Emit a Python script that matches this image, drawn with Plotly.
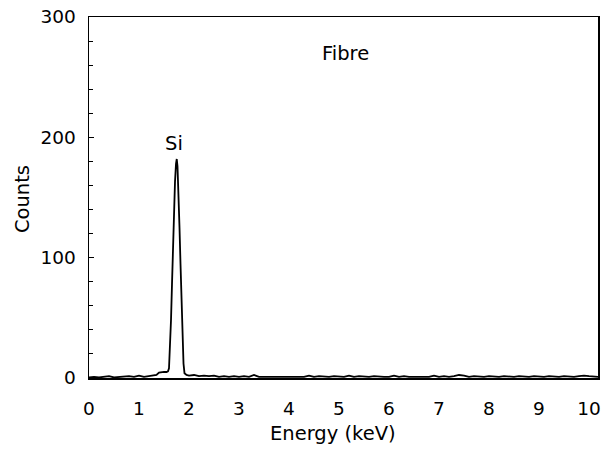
import plotly.graph_objects as go

# ---- data ----
energy = [0.0, 0.1, 0.2, 0.3, 0.4, 0.5, 0.6, 0.7, 0.8, 0.9, 1.0, 1.1, 1.2, 1.3,
          1.35, 1.40, 1.45, 1.50, 1.55, 1.58,
          1.60, 1.62, 1.64, 1.66, 1.68, 1.70, 1.72, 1.74, 1.755, 1.77, 1.79,
          1.81, 1.83, 1.85, 1.87, 1.89, 1.91, 1.95,
          2.0, 2.1, 2.2, 2.3, 2.4, 2.5, 2.6, 2.7, 2.8, 2.9,
          3.0, 3.1, 3.2, 3.3, 3.4, 3.5, 3.6, 3.7, 3.8, 3.9,
          4.0, 4.1, 4.2, 4.3, 4.4, 4.5, 4.6, 4.7, 4.8, 4.9,
          5.0, 5.1, 5.2, 5.3, 5.4, 5.5, 5.6, 5.7, 5.8, 5.9,
          6.0, 6.1, 6.2, 6.3, 6.4, 6.5, 6.6, 6.7, 6.8, 6.9,
          7.0, 7.1, 7.2, 7.3, 7.4, 7.5, 7.6, 7.7, 7.8, 7.9,
          8.0, 8.1, 8.2, 8.3, 8.4, 8.5, 8.6, 8.7, 8.8, 8.9,
          9.0, 9.1, 9.2, 9.3, 9.4, 9.5, 9.6, 9.7, 9.8, 9.9, 10.0, 10.1, 10.18]
counts = [0.5, 1.0, 0.5, 1.0, 1.5, 0.5, 1.0, 1.0, 1.5, 1.0, 2.0, 1.0, 1.5, 2.0,
          2.5, 4.5, 5.0, 5.0, 5.0, 5.5,
          8.0, 25.0, 48.0, 78.0, 110.0, 140.0, 163.0, 178.0, 182.0, 176.0, 155.0,
          125.0, 95.0, 62.0, 32.0, 12.0, 4.0, 2.5,
          2.0, 2.5, 1.5, 2.0, 1.5, 2.0, 1.0, 1.5, 1.0, 1.5,
          1.0, 1.5, 1.0, 2.5, 1.0, 1.0, 1.5, 1.0, 1.5, 1.0,
          1.0, 1.5, 1.0, 1.0, 2.0, 1.0, 1.5, 1.0, 1.0, 1.5,
          1.0, 1.0, 2.0, 1.0, 1.5, 1.0, 1.0, 1.5, 1.0, 1.0,
          1.0, 2.0, 1.0, 1.5, 1.0, 1.0, 1.5, 1.0, 1.0, 2.0,
          1.0, 1.5, 1.0, 1.5, 2.5, 2.0, 1.0, 1.5, 1.0, 1.0,
          1.5, 1.0, 1.0, 1.5, 1.0, 1.0, 1.5, 1.0, 1.0, 1.5,
          1.0, 1.0, 1.5, 1.0, 1.0, 1.5, 1.0, 1.0, 1.5, 2.0, 1.5, 1.0, 1.0]

x_ticks = [0, 1, 2, 3, 4, 5, 6, 7, 8, 9, 10]
y_ticks = [0, 100, 200, 300]

FONT = "DejaVu Sans, sans-serif"
FS = 18.5
FT = 19.5

fig = go.Figure()
fig.add_trace(go.Scatter(x=energy, y=counts, mode="lines",
                         line=dict(color="black", width=1.8),
                         showlegend=False, hoverinfo="skip"))

fig.update_layout(
    width=601, height=450,
    margin=dict(l=89, r=3, t=17, b=72),
    paper_bgcolor="white", plot_bgcolor="white",
    font=dict(family=FONT, size=FS, color="black"),
    showlegend=False,
)
fig.update_xaxes(
    range=[0, 10.18], tickvals=x_ticks, ticktext=[str(v) for v in x_ticks],
    showgrid=False, zeroline=False, showline=True, linecolor="black",
    linewidth=1.5, mirror=True, ticks="", ticklabelstandoff=13,
    tickfont=dict(size=FS), automargin=False,
)
fig.update_yaxes(
    range=[0, 300], tickvals=y_ticks, ticktext=[str(v) for v in y_ticks],
    showgrid=False, zeroline=False, showline=True, linecolor="black",
    linewidth=1.5, mirror=True, ticks="inside", ticklen=5, tickcolor="black",
    minor=dict(dtick=20, ticks="inside", ticklen=4, tickcolor="black", showgrid=False),
    ticklabelstandoff=8, tickfont=dict(size=FS), automargin=False,
)

fig.add_annotation(text="Counts", xref="paper", yref="paper", x=-0.132, y=0.495,
                   xanchor="center", yanchor="middle",
                   textangle=-90, showarrow=False, font=dict(size=FT))
fig.add_annotation(text="Energy (keV)", xref="x", yref="paper", x=4.87, y=-0.155,
                   xanchor="center", yanchor="middle",
                   showarrow=False, font=dict(size=FT))
fig.add_annotation(text="(b)", xref="x", yref="paper", x=-0.04, y=-0.155,
                   xanchor="center", yanchor="middle",
                   showarrow=False, font=dict(size=FT))
fig.add_annotation(text="Fibre", xref="x", yref="y", x=5.13, y=270,
                   xanchor="center", yanchor="middle",
                   showarrow=False, font=dict(size=FT))
fig.add_annotation(text="Si", xref="x", yref="y", x=1.70, y=195,
                   xanchor="center", yanchor="middle",
                   showarrow=False, font=dict(size=FT))

fig.write_html("out.html",
               config={"displayModeBar": False, "staticPlot": True},
               post_script="document.body.style.margin='0';document.body.style.padding='0';")
